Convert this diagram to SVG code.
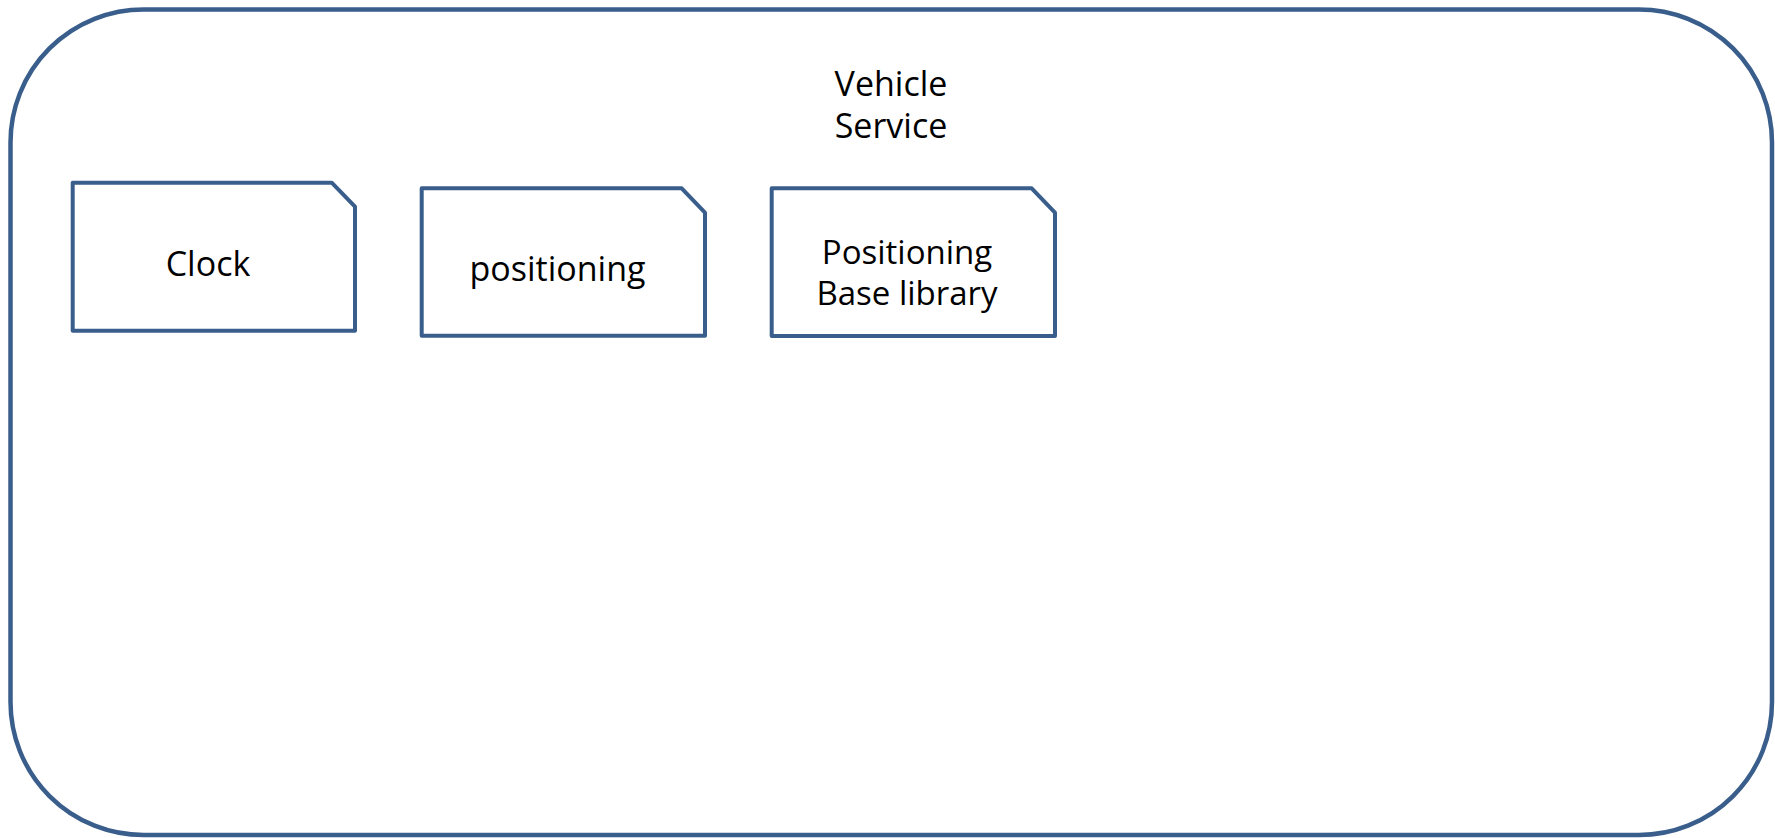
<svg xmlns="http://www.w3.org/2000/svg" width="1775" height="838" viewBox="0 0 1775 838">
<style>
.box{fill:#fff;stroke:#3a5e8c;stroke-width:4.5;stroke-linejoin:round}
.node{fill:#fff;stroke:#3a5e8c;stroke-width:4;stroke-linejoin:round}
text{font-family:"Open Sans","Noto Sans",sans-serif;font-size:34px;fill:#000;text-anchor:middle}
.sm{font-size:33px}
</style>
<rect width="1775" height="838" fill="#fff"/>
<g id="vehicle-service">
<rect class="box" x="10.5" y="9.5" width="1761.5" height="825.5" rx="133" ry="133"/>
<text x="891" y="96">Vehicle</text>
<text x="891" y="138">Service</text>
</g>
<g id="clock">
<path class="node" d="M72.7 182.7 H331.7 L355 206.7 V330.7 H72.7 Z"/>
<text x="208" y="276">Clock</text>
</g>
<g id="positioning">
<path class="node" d="M421.7 188.3 H681.7 L705 212.7 V335.7 H421.7 Z"/>
<text x="557.5" y="281">positioning</text>
</g>
<g id="positioning-base-library">
<path class="node" d="M771.7 188.3 H1031.7 L1055 212.7 V336 H771.7 Z"/>
<text class="sm" x="907" y="264">Positioning</text>
<text class="sm" x="907" y="305">Base library</text>
</g>
<g id="connectors"></g>
</svg>
